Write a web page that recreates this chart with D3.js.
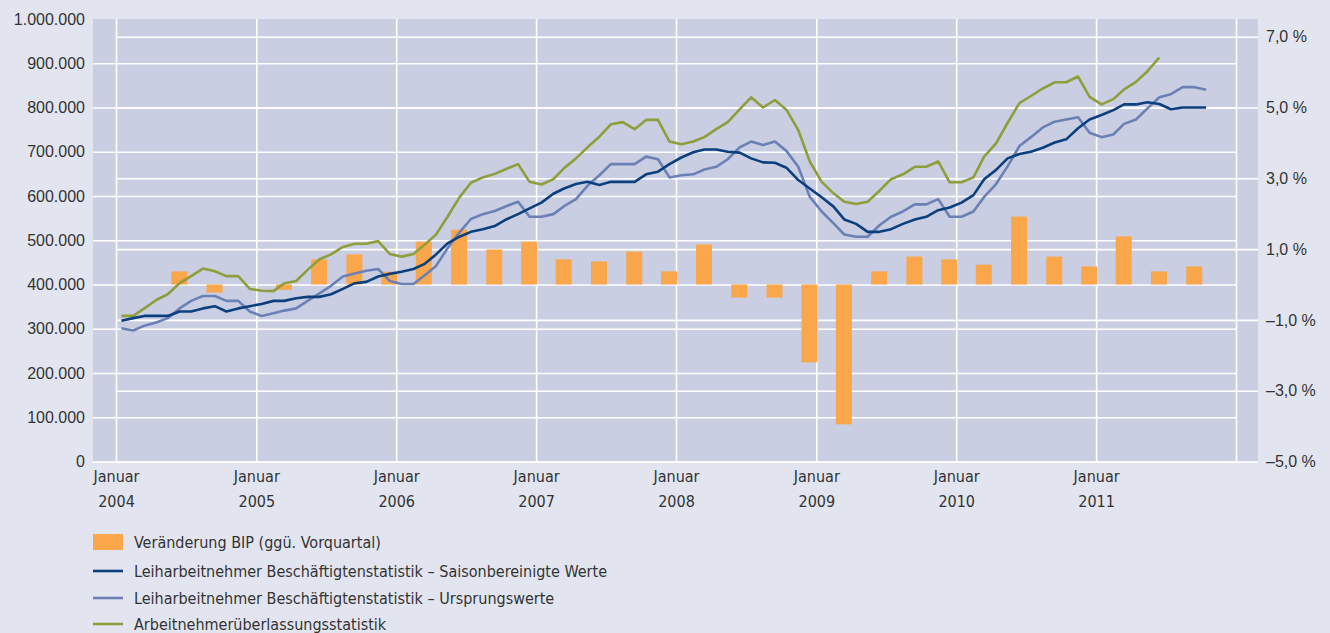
<!DOCTYPE html>
<html>
<head>
<meta charset="utf-8">
<script src="https://cdn.jsdelivr.net/npm/d3@7"></script>
<style>
  body { margin: 0; background: #e2e5f0; }
  .num { font-family: "Liberation Sans", Arial, sans-serif; font-size: 16px; fill: #333; }
  .cond { font-family: "DejaVu Sans", sans-serif; font-stretch: condensed; font-size: 16px; fill: #333; }
</style>
</head>
<body>
<script>
const w = 1330;
const h = 633;

// monthly values from Jan 2004, in thousands
const saison = [
  318,324,329,329,329,339,339,346,351,339,346,351,
  356,363,363,369,372,372,378,390,403,406,418,424,
  429,435,446,468,493,508,519,525,532,547,559,572,
  585,605,617,627,632,625,632,632,632,649,655,672,
  687,699,705,705,700,698,685,676,675,664,636,617,
  597,576,547,537,519,519,525,537,547,553,568,574,
  585,602,638,659,685,695,700,709,721,728,753,773,
  783,794,807,807,812,808,796,800,800,800
];
const ursprung = [
  301,296,307,314,324,346,363,374,374,363,363,339,
  329,335,341,346,363,380,397,418,425,431,435,408,
  401,401,420,442,482,518,548,559,566,577,587,553,
  553,559,577,593,623,647,672,672,672,689,683,642,
  647,649,660,666,683,710,723,715,723,702,666,598,
  565,538,513,508,508,534,553,565,581,581,593,553,
  553,565,598,627,667,713,733,755,768,773,778,743,
  733,739,763,773,798,823,830,846,846,840
];
const anue = [
  329,329,346,365,378,403,419,436,430,419,419,390,
  386,385,403,408,433,457,468,485,492,492,498,469,
  463,469,489,513,553,597,630,642,650,661,672,632,
  626,638,663,685,710,734,762,767,751,772,772,723,
  717,723,733,751,767,796,823,800,817,795,749,678,
  632,606,587,582,587,612,638,649,666,666,678,631,
  631,642,689,719,765,810,826,843,857,857,870,824,
  807,819,841,858,882,913
];
// quarterly GDP change in %, Q1 2004 .. Q3 2011
const bip = [
  0, 0.37, -0.23, 0,
  -0.15, 0.71, 0.85, 0.36,
  1.21, 1.55, 0.99, 1.21,
  0.71, 0.65, 0.93, 0.37,
  1.13, -0.37, -0.37, -2.2,
  -3.95, 0.37, 0.79, 0.71,
  0.56, 1.92, 0.79, 0.51,
  1.36, 0.37, 0.51
];
const years = [2004, 2005, 2006, 2007, 2008, 2009, 2010, 2011];
const leftTicks = d3.range(0, 1000001, 100000);
const rightTicks = [-5, -3, -1, 1, 3, 5, 7];
const legendItems = [
  {label: "Veränderung BIP (ggü. Vorquartal)", type: "bar", color: "#faa64b"},
  {label: "Leiharbeitnehmer Beschäftigtenstatistik – Saisonbereinigte Werte", type: "line", color: "#0b3f7e"},
  {label: "Leiharbeitnehmer Beschäftigtenstatistik – Ursprungswerte", type: "line", color: "#6b80b5"},
  {label: "Arbeitnehmerüberlassungsstatistik", type: "line", color: "#8f9e3b"}
];

const de = d3.formatLocale({decimal: ",", thousands: ".", grouping: [3], currency: ["", "€"]});
const fmtLeft = de.format(",.0f");
const fmtRight = v => (v < 0 ? "–" : "") + de.format(".1f")(Math.abs(v)) + " %";

const plotLeft = 93, plotRight = 1258, plotTop = 19, plotBottom = 461.5;

const x = d3.scaleTime()
  .domain([new Date(2004, 0, 1), new Date(2012, 0, 1)])
  .range([116, 1236]);
const yL = d3.scaleLinear().domain([0, 1000000]).range([plotBottom, plotTop]);
const yR = d3.scaleLinear().domain([-5, 7.5]).range([plotBottom, plotTop]);

const monthDate = i => new Date(2004, i, 15);
const quarterDate = q => new Date(2004, q * 3 + 2, 14);

const svg = d3.select("body").append("svg")
  .attr("width", w)
  .attr("height", h);

svg.append("rect").attr("width", w).attr("height", h).attr("fill", "#e2e5f0");
svg.append("rect")
  .attr("x", plotLeft).attr("y", plotTop)
  .attr("width", plotRight - plotLeft).attr("height", plotBottom - plotTop)
  .attr("fill", "#c9cee3");

// grids
const gridL = svg.append("g")
  .attr("transform", "translate(" + plotLeft + ",0)")
  .call(d3.axisLeft(yL).tickValues(leftTicks.slice(0, -1)).tickSize(-(1236 - plotLeft)).tickFormat(""));
const gridR = svg.append("g")
  .attr("transform", "translate(" + plotRight + ",0)")
  .call(d3.axisRight(yR).tickValues(rightTicks).tickSize(-(plotRight - 116)).tickFormat(""));
const gridX = svg.append("g")
  .attr("transform", "translate(0," + plotBottom + ")")
  .call(d3.axisBottom(x).ticks(d3.timeYear.every(1)).tickSize(-(plotBottom - plotTop)).tickFormat(""));
[gridL, gridR, gridX].forEach(g => {
  g.select(".domain").remove();
  g.selectAll("line").attr("stroke", "#fff").attr("stroke-width", 1.6);
});

// bars
svg.append("g").selectAll("rect")
  .data(bip)
  .enter()
  .append("rect")
  .attr("x", (d, i) => x(quarterDate(i)) - 8)
  .attr("y", d => yR(Math.max(0, d)))
  .attr("width", 16)
  .attr("height", d => Math.abs(yR(d) - yR(0)))
  .attr("fill", "#faa64b");

// lines
const line = d3.line()
  .x((d, i) => x(monthDate(i)))
  .y(d => yL(d * 1000));

[[anue, "#8f9e3b"], [ursprung, "#6b80b5"], [saison, "#0b3f7e"]].forEach(s => {
  svg.append("path")
    .datum(s[0])
    .attr("d", line)
    .attr("fill", "none")
    .attr("stroke", s[1])
    .attr("stroke-width", 2.6)
    .attr("stroke-linejoin", "round");
});

// axes labels
const axL = svg.append("g")
  .attr("transform", "translate(" + plotLeft + ",0)")
  .call(d3.axisLeft(yL).tickValues(leftTicks).tickSize(0).tickPadding(8).tickFormat(fmtLeft));
const axR = svg.append("g")
  .attr("transform", "translate(" + plotRight + ",0)")
  .call(d3.axisRight(yR).tickValues(rightTicks).tickSize(0).tickPadding(8).tickFormat(fmtRight));
[axL, axR].forEach(g => {
  g.select(".domain").remove();
  g.selectAll("text").attr("class", "num").attr("font-family", null).attr("font-size", null).attr("fill", null);
});

const axX = svg.append("g")
  .attr("transform", "translate(0," + plotBottom + ")")
  .call(d3.axisBottom(x).tickValues(years.map(y => new Date(y, 0, 1))).tickSize(0).tickPadding(9).tickFormat(() => "Januar"));
axX.select(".domain").remove();
axX.selectAll("text").attr("class", "cond").attr("font-family", null).attr("font-size", null).attr("fill", null);
axX.selectAll(".tick").append("text")
  .attr("class", "cond")
  .attr("y", 45)
  .attr("text-anchor", "middle")
  .text(d => d.getFullYear());

// legend
const leg = svg.append("g").selectAll("g")
  .data(legendItems)
  .enter()
  .append("g")
  .attr("transform", (d, i) => "translate(93," + [542, 571, 598, 624][i] + ")");
leg.filter(d => d.type === "bar").append("rect")
  .attr("x", 0).attr("y", -8).attr("width", 30).attr("height", 16)
  .attr("fill", d => d.color);
leg.filter(d => d.type === "line").append("line")
  .attr("x1", 0).attr("x2", 30)
  .attr("stroke", d => d.color).attr("stroke-width", 2.6);
leg.append("text")
  .attr("class", "cond")
  .attr("x", 41)
  .attr("dy", "0.35em")
  .text(d => d.label);
</script>
</body>
</html>
